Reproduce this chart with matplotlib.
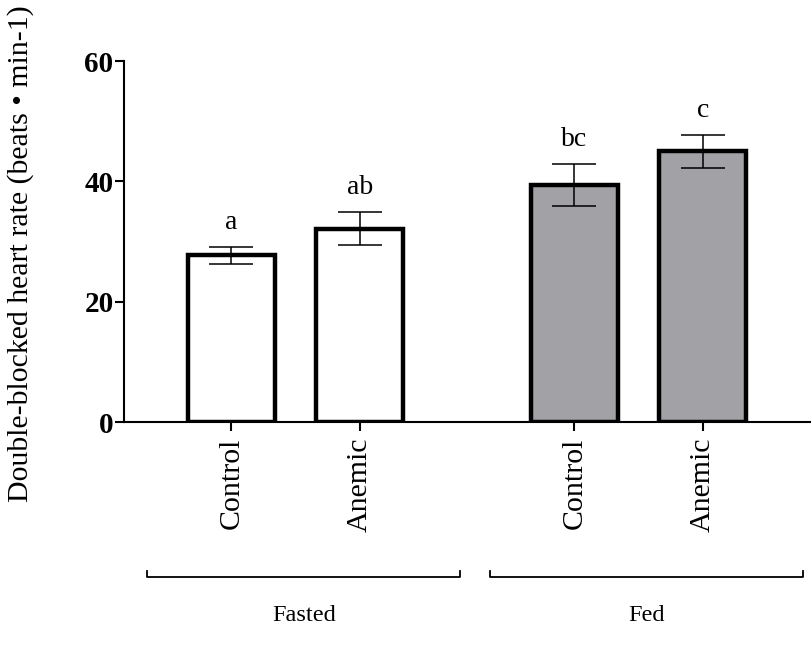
import matplotlib
matplotlib.use('Agg')
import matplotlib.pyplot as plt

plt.rcParams['font.family'] = ['Liberation Serif', 'DejaVu Serif']

# Dane
groups = ['Fasted', 'Fed']
conditions = ['Control', 'Anemic', 'Control', 'Anemic']
heart_rate = [27.7, 32.1, 39.4, 45.0]
sem = [1.45, 2.75, 3.55, 2.7]
letters = ['a', 'ab', 'bc', 'c']
group_of_bar = [0, 0, 1, 1]

positions = [0, 1, 2.67, 3.67]
colors = ['white', 'white', '#a2a1a6', '#a2a1a6']

fig = plt.figure(figsize=(8.12, 6.45), dpi=100)
ax = fig.add_axes([0.1527, 0.3457, 0.8473, 0.5597])

ax.bar(positions, heart_rate, width=0.677, color=colors,
       edgecolor='black', linewidth=3.2, zorder=2)
ax.errorbar(positions, heart_rate, yerr=sem, fmt='none', ecolor='black',
            elinewidth=1.1, capsize=15.5, capthick=1.1, zorder=3)

for x, h, e, lab in zip(positions, heart_rate, sem, letters):
    ax.text(x, h + e + 3.0, lab, ha='center', va='baseline', fontsize=20)

ax.set_ylim(0, 60)
ax.set_xlim(-0.837, 4.52)
ax.set_yticks([0, 20, 40, 60])
ax.set_yticklabels(['0', '20', '40', '60'], fontsize=21, fontweight='bold')
ax.set_xticks(positions)
ax.set_xticklabels(conditions, rotation=90, fontsize=21.5)
ax.tick_params(axis='both', length=6.5, width=1.5, direction='out')
ax.tick_params(axis='x', pad=5)
ax.tick_params(axis='y', pad=1)

for s in ['top', 'right']:
    ax.spines[s].set_visible(False)
ax.spines['left'].set_linewidth(1.5)
ax.spines['bottom'].set_linewidth(1.5)

# Nawiasy grup
trans = ax.get_xaxis_transform()
for g, name in enumerate(groups):
    xs = [p for p, gi in zip(positions, group_of_bar) if gi == g]
    center = sum(xs) / len(xs) + 0.062
    x0, x1 = center - 1.22, center + 1.22
    ax.plot([x0, x0, x1, x1], [-0.412, -0.429, -0.429, -0.412], color='black',
            linewidth=1.3, transform=trans, clip_on=False)
    ax.text(center, -0.535, name, ha='center', va='center', fontsize=17.5,
            transform=trans)

fig.text(21 / 812, 1 - 254 / 645, 'Double-blocked heart rate (beats \u2022 min-1)',
         rotation=90, ha='center', va='center', fontsize=21.5)

fig.savefig('out.png', dpi=100)
